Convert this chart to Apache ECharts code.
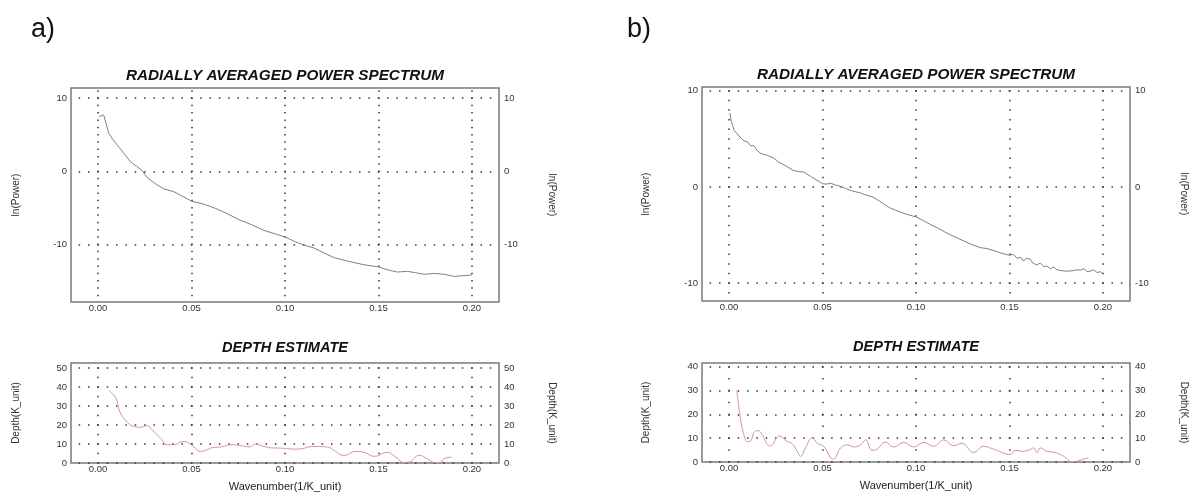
<!DOCTYPE html>
<html><head><meta charset="utf-8">
<script src="https://cdn.jsdelivr.net/npm/echarts@6/dist/echarts.min.js"></script>
<style>html,body{margin:0;padding:0;background:#fff}#c{width:1195px;height:496px}</style>
</head><body><div id="c"></div>
<script>
// ---------- DATA ----------
const xTickLabels = ['0.00', '0.05', '0.10', '0.15', '0.20'];
const powerTickLabels = ['-10', '0', '10'];
const depthTickLabelsA = ['0', '10', '20', '30', '40', '50'];
const depthTickLabelsB = ['0', '10', '20', '30', '40'];

// a) radially averaged power spectrum
const specA_k = [0.0005,0.003,0.0057,0.008,0.0102,0.014,0.0173,0.0205,0.0236,0.026,0.03,0.035,0.0405,0.045,0.05,0.0566,0.063,0.069,0.076,0.082,0.0888,0.095,0.1,0.105,0.11,0.1155,0.121,0.126,0.1334,0.1423,0.15,0.155,0.16,0.1655,0.17,0.1745,0.18,0.185,0.1905,0.195,0.2];
const specA_lnP = [7.5,7.7,5.2,4.3,3.6,2.4,1.3,0.7,0.1,-0.8,-1.6,-2.4,-2.8,-3.4,-4.1,-4.5,-5.1,-5.8,-6.7,-7.3,-8.1,-8.6,-9.0,-9.6,-10.1,-10.5,-11.2,-11.8,-12.3,-12.8,-13.1,-13.5,-13.8,-13.7,-13.9,-14.1,-14.0,-14.1,-14.4,-14.3,-14.2];

// a) depth estimate
const depthA_k = [0.0057,0.0093,0.0116,0.0146,0.0191,0.0227,0.0263,0.0289,0.0334,0.037,0.0405,0.0455,0.0486,0.0513,0.0548,0.0584,0.062,0.0655,0.0709,0.0763,0.0807,0.0843,0.0888,0.0923,0.0977,0.1066,0.1155,0.1227,0.1263,0.1316,0.1379,0.1423,0.1477,0.1548,0.1584,0.1638,0.1664,0.1718,0.1763,0.1798,0.183,0.1852,0.1891];
const depthA_d = [38,34.5,27,22.6,19.2,18.8,19.7,17.4,13.1,9.6,9.6,11.3,10.5,8.4,6.1,7.0,8.2,8.4,9.6,9.2,8.5,9.9,8.7,8.0,7.8,7.3,8.7,8.4,6.6,4.0,6.1,5.6,3.5,5.6,3.8,0.3,0.5,4.0,2.1,0.3,0.3,2.3,3.1];

// b) radially averaged power spectrum
const specB_k = [0.0004,0.0012,0.0027,0.0053,0.008,0.0098,0.0115,0.0133,0.015,0.0169,0.0185,0.0205,0.024,0.0265,0.0294,0.032,0.0347,0.0375,0.04,0.0436,0.047,0.05,0.052,0.0543,0.057,0.0596,0.063,0.0667,0.07,0.0738,0.0765,0.0792,0.083,0.0863,0.089,0.0916,0.096,0.1,0.104,0.1077,0.112,0.1166,0.121,0.1255,0.13,0.1344,0.138,0.1416,0.146,0.15,0.152,0.154,0.156,0.1575,0.159,0.161,0.1625,0.1646,0.1665,0.1685,0.17,0.172,0.1735,0.1754,0.178,0.1807,0.184,0.186,0.1879,0.19,0.1915,0.1932,0.195,0.197,0.1985,0.2];
const specB_lnP = [7.7,6.8,5.9,5.3,4.8,4.7,4.3,4.3,3.8,3.5,3.4,3.3,3.0,2.6,2.3,2.0,1.7,1.6,1.56,1.1,0.7,0.35,0.3,0.4,0.2,0.07,-0.2,-0.45,-0.6,-0.87,-1.0,-1.3,-1.8,-2.2,-2.4,-2.6,-2.9,-3.1,-3.5,-3.9,-4.3,-4.8,-5.2,-5.6,-6.0,-6.3,-6.4,-6.6,-6.9,-7.1,-7.0,-7.4,-7.3,-7.7,-7.4,-7.5,-7.9,-8.1,-7.9,-8.3,-8.2,-8.5,-8.3,-8.6,-8.7,-8.75,-8.7,-8.6,-8.65,-8.5,-8.8,-8.75,-8.6,-8.9,-8.8,-9.0];

// b) depth estimate
const depthB_k = [0.0041,0.0059,0.0077,0.0098,0.0116,0.0133,0.0155,0.0178,0.0205,0.0222,0.0267,0.0311,0.0338,0.0365,0.0383,0.0409,0.0445,0.0472,0.0507,0.0543,0.056,0.0596,0.0632,0.0667,0.0703,0.073,0.0765,0.0792,0.0836,0.0881,0.0934,0.0988,0.1041,0.1094,0.1148,0.1201,0.1246,0.1308,0.1361,0.1415,0.1477,0.1504,0.1531,0.1567,0.1602,0.1629,0.1647,0.1665,0.17,0.1745,0.179,0.1834,0.1861,0.1898,0.1923];
const depthB_d = [30.2,19.1,12.1,8.6,8.9,12.4,13.2,11.4,7.2,6.8,11.0,8.6,7.7,4.5,2.4,5.9,10.3,7.9,6.6,1.7,1.3,5.9,7.2,6.3,7.2,9.3,4.9,5.4,8.4,6.3,8.2,6.3,8.2,6.6,9.3,6.8,7.9,4.0,6.6,5.4,3.5,3.1,4.9,4.5,4.9,5.9,4.0,5.9,4.5,4.0,2.4,0.1,0.3,1.3,1.7];

// ---------- LAYOUT / STYLE ----------
const FONT = '"Liberation Sans", Arial, sans-serif';
const X_MIN = -0.0145, X_MAX = 0.2145;
const panels = [
  {grid:{left:71, top:88, width:428, height:214}, ymin:-17.9, ymax:11.4, step:10, dotUnit:1, ticks:powerTickLabels, name:'ln(Power)', k:specA_k, v:specA_lnP, color:'#808080', smooth:false, xName:false, xMargin:1, lGap:50, rGap:48},
  {grid:{left:71, top:363, width:428, height:100}, ymin:0, ymax:52.6, step:10, dotUnit:5, ticks:depthTickLabelsA, name:'Depth(K_unit)', k:depthA_k, v:depthA_d, color:'#d69494', smooth:0.5, xName:true, xMargin:1, lGap:50, rGap:48},
  {grid:{left:702, top:87, width:428, height:214}, ymin:-11.85, ymax:10.4, step:10, dotUnit:1, ticks:powerTickLabels, name:'ln(Power)', k:specB_k, v:specB_lnP, color:'#808080', smooth:false, xName:false, xMargin:1, lGap:51, rGap:49},
  {grid:{left:702, top:363, width:428, height:99}, ymin:0, ymax:41.6, step:10, dotUnit:5, ticks:depthTickLabelsB, name:'Depth(K_unit)', k:depthB_k, v:depthB_d, color:'#d69494', smooth:0.4, xName:true, xMargin:1, lGap:51, rGap:49}
];

const grids = [], xAxes = [], yAxes = [], series = [];
panels.forEach((p, gi) => {
  grids.push(Object.assign({show:true, borderColor:'#7a7a7a', borderWidth:1.5, backgroundColor:'transparent'}, p.grid));
  // horizontal dotted lines: dots every 0.005 in x, starting from the left edge
  const pxPerX = p.grid.width / (X_MAX - X_MIN);
  const hPer = 0.005 * pxPerX;
  const firstX = (Math.ceil(X_MIN / 0.005 + 1e-9) * 0.005 - X_MIN) * pxPerX;
  const hOff = ((hPer - (firstX - 0.75)) % hPer + hPer) % hPer;
  // vertical dotted lines: dots every dotUnit in y, starting from the top edge
  const pxPerY = p.grid.height / (p.ymax - p.ymin);
  const vPer = p.dotUnit * pxPerY;
  const firstY = (p.ymax - Math.floor(p.ymax / p.dotUnit) * p.dotUnit) * pxPerY;
  const vOff = ((vPer - (firstY - 0.75)) % vPer + vPer) % vPer;

  xAxes.push({
    type:'value', gridIndex:gi, min:X_MIN, max:X_MAX, splitNumber:5, minInterval:0.05, maxInterval:0.05,
    axisLine:{show:false}, axisTick:{show:false},
    axisLabel:{margin:p.xMargin, fontSize:9.5, color:'#333', fontFamily:FONT,
      formatter: v => { const s = v.toFixed(2); return (Math.abs(v*20 - Math.round(v*20)) < 1e-6 && xTickLabels.includes(s)) ? s : ''; }},
    splitLine:{show:true, showMinLine:false, showMaxLine:false,
      lineStyle:{color:'#333', width:1.5, type:[1.5, vPer - 1.5], dashOffset:vOff}},
    name: p.xName ? 'Wavenumber(1/K_unit)' : '', nameLocation:'middle', nameGap:18,
    nameTextStyle:{fontSize:11, color:'#222', fontFamily:FONT}
  });
  const fmtY = v => { const s = String(Math.round(v)); return (Math.abs(v/p.step - Math.round(v/p.step)) < 1e-6 && p.ticks.includes(s)) ? s : ''; };
  const yBase = {
    type:'value', gridIndex:gi, min:p.ymin, max:p.ymax, splitNumber:3, minInterval:p.step, maxInterval:p.step,
    axisLine:{show:false}, axisTick:{show:false},
    name:p.name, nameLocation:'middle', nameTextStyle:{fontSize:10, color:'#333', fontFamily:FONT}
  };
  yAxes.push(Object.assign({}, yBase, {
    position:'left', nameRotate:90, nameGap:p.lGap,
    axisLabel:{margin:4, fontSize:9.5, color:'#333', fontFamily:FONT, formatter:fmtY},
    splitLine:{show:true, showMinLine:p.ymin === 0, showMaxLine:false,
      lineStyle:{color:'#333', width:1.5, type:[1.5, hPer - 1.5], dashOffset:hOff}}
  }));
  yAxes.push(Object.assign({}, yBase, {
    position:'right', nameRotate:-90, nameGap:p.rGap,
    axisLabel:{margin:5, fontSize:9.5, color:'#333', fontFamily:FONT, formatter:fmtY},
    splitLine:{show:false}
  }));
  series.push({
    type:'line', xAxisIndex:gi, yAxisIndex:gi*2, showSymbol:false, symbol:'none',
    smooth:p.smooth, lineStyle:{color:p.color, width:1}, z:5,
    data:p.k.map((k, i) => [k, p.v[i]])
  });
});

function txt(x, y, text, font, align) {
  return {type:'text', x:x, y:y, z:100, style:{text:text, font:font, fill:'#111',
    align:align || 'center', textAlign:align || 'center', verticalAlign:'middle', textVerticalAlign:'middle'}};
}
const graphics = [
  txt(31, 30, 'a)', '27px ' + FONT, 'left'),
  txt(627, 30, 'b)', '27px ' + FONT, 'left'),
  txt(285, 76, 'RADIALLY AVERAGED POWER SPECTRUM', 'italic bold 15.3px ' + FONT),
  txt(916, 75, 'RADIALLY AVERAGED POWER SPECTRUM', 'italic bold 15.3px ' + FONT),
  txt(285, 348, 'DEPTH ESTIMATE', 'italic bold 14.6px ' + FONT),
  txt(916, 347, 'DEPTH ESTIMATE', 'italic bold 14.6px ' + FONT)
];

const chart = echarts.init(document.getElementById('c'), null, {renderer:'canvas'});
chart.setOption({
  animation:false,
  backgroundColor:'#ffffff',
  textStyle:{fontFamily:FONT},
  grid:grids, xAxis:xAxes, yAxis:yAxes, series:series,
  graphic:graphics
});
</script>
</body></html>
